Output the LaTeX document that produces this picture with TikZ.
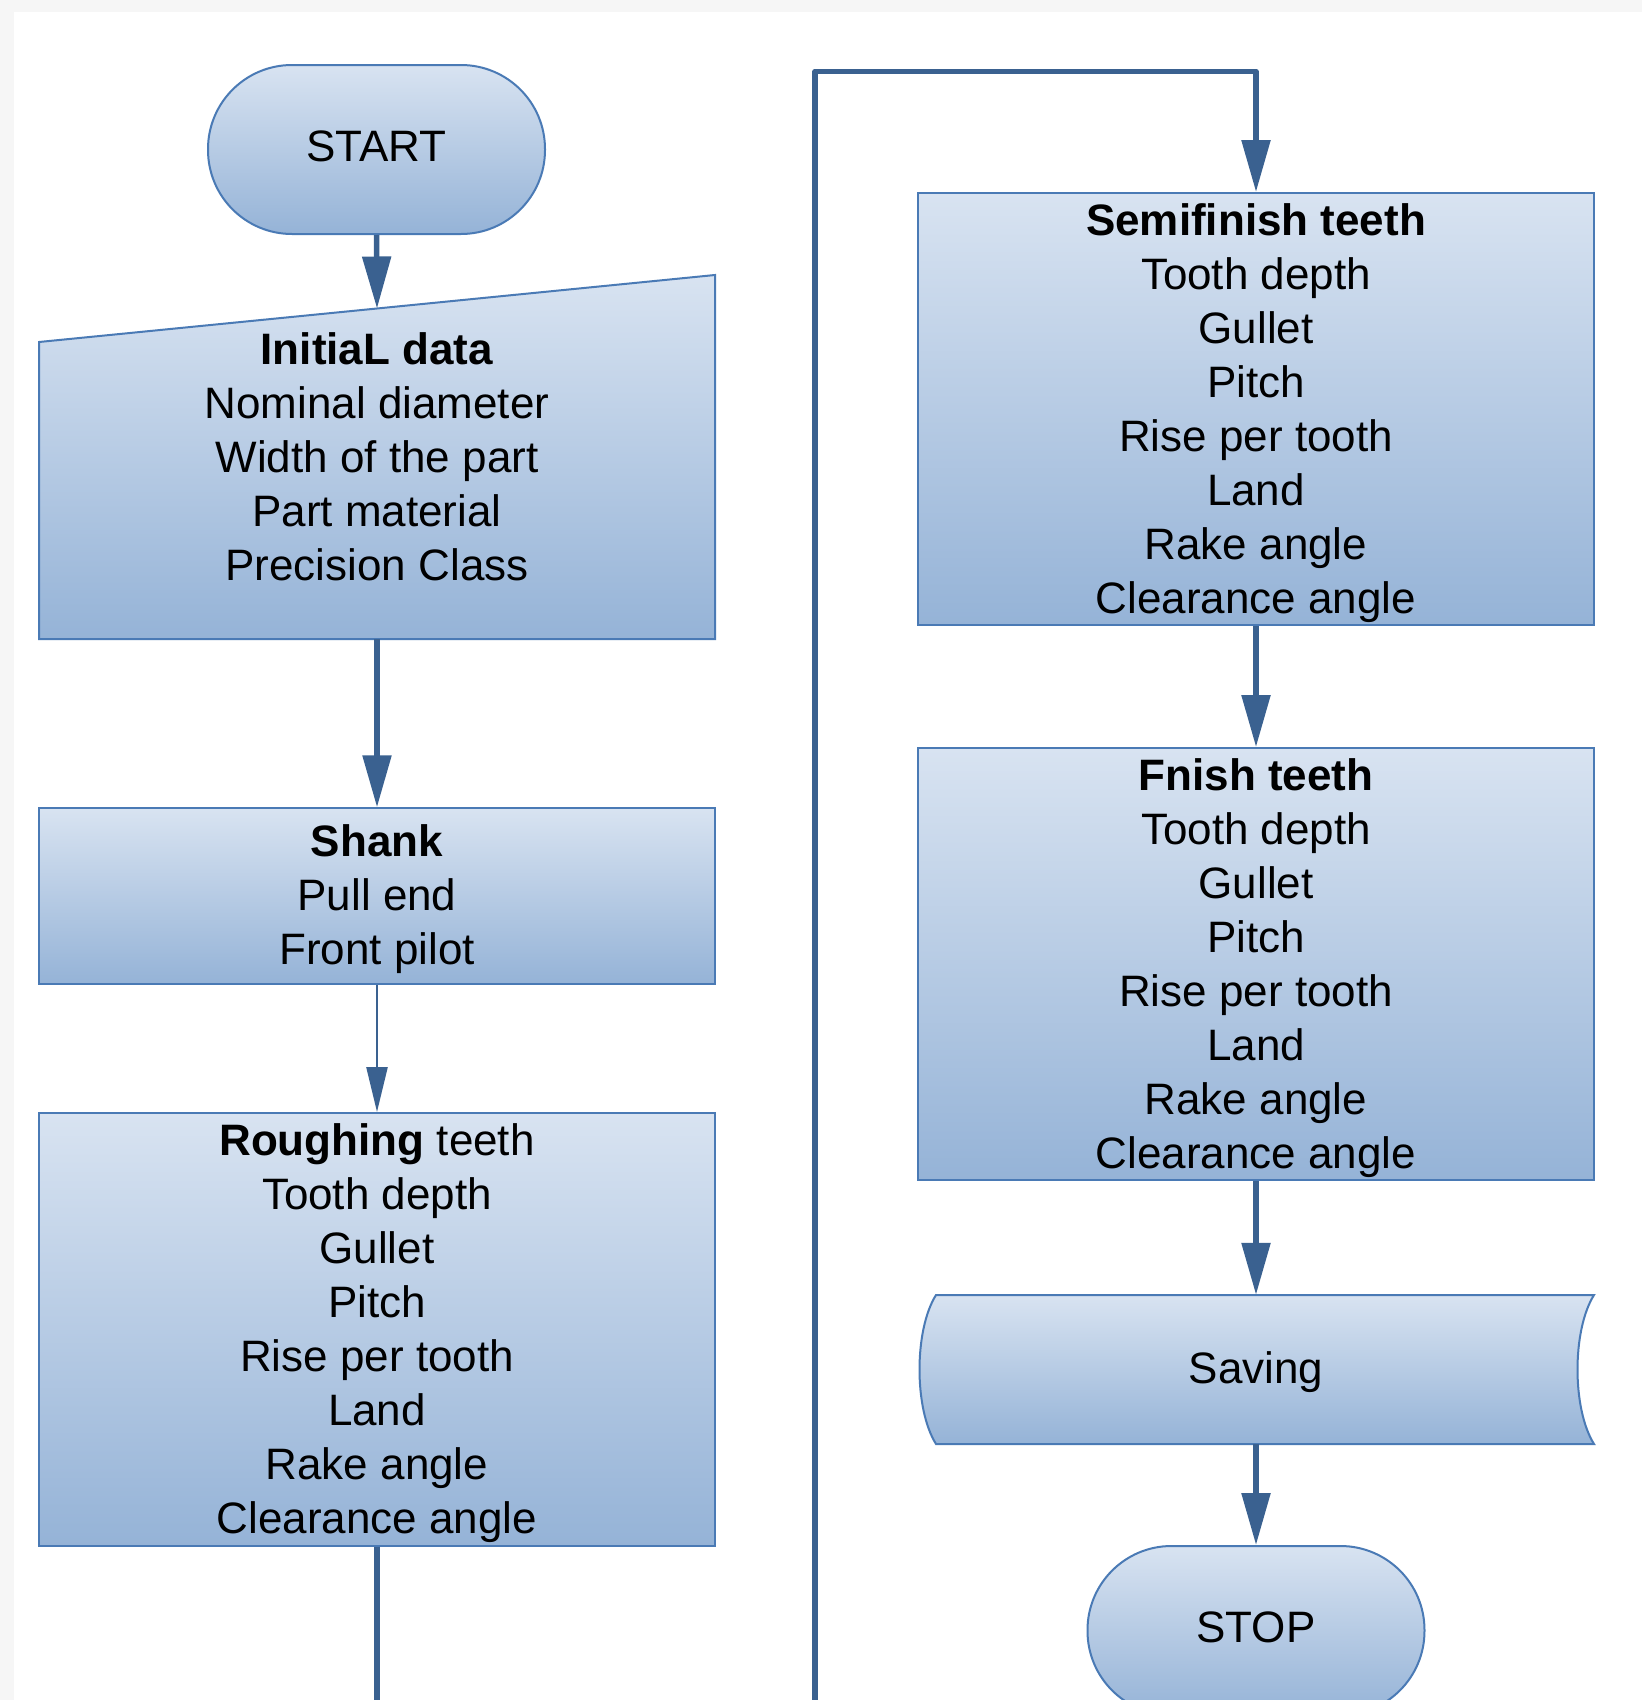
\documentclass[tikz,border=0pt]{standalone}
\usepackage{fontspec}
\setmainfont{Liberation Sans}
\usetikzlibrary{arrows.meta}
\definecolor{bordc}{HTML}{4A7AB5}
\definecolor{linec}{HTML}{3A6190}
\definecolor{topc}{HTML}{D8E3F1}
\definecolor{botc}{HTML}{95B3D7}
\definecolor{greybg}{HTML}{F6F6F6}
\begin{document}
\begin{tikzpicture}[x=1pt,y=-1pt,
  boxfill/.style={top color=topc,bottom color=botc,draw=bordc,line width=2pt},
  txt/.style={font=\fontsize{44}{54}\selectfont,align=center,inner sep=0pt,text=black},
  term/.style={boxfill,rectangle,rounded corners=84pt,minimum width=337pt,minimum height=169pt},
  procbox/.style={boxfill,rectangle,minimum width=676pt},
  conn/.style={draw=linec,line width=5.5pt,line join=round,-{Triangle[length=52pt,width=28pt]}},
  connthin/.style={draw=linec,line width=2.5pt,-{Triangle[length=45pt,width=21pt]}},
  plainline/.style={draw=linec,line width=5.5pt},
]
\useasboundingbox (0,0) rectangle (1642,1700);
\clip (0,0) rectangle (1642,1700);
\fill[greybg] (0,0) rectangle (1642,1700);
\fill[white] (14,12) rectangle (1642,1700);

% left column
\node[term] (start) at (376.5,149.5) {};
\node[txt] (starttxt) at ([yshift=3pt]start.center) {START};
\draw[boxfill] (39,342) -- (715,275) -- (715,639) -- (39,639) -- cycle;
\node[txt,minimum width=676pt,minimum height=364pt] (initbox) at (377,457)
  {\textbf{InitiaL data}\\Nominal diameter\\Width of the part\\Part material\\Precision Class};
\coordinate (inittop) at (377,308.5);
\node[procbox,minimum height=175.5pt] (shank) at (377,896) {};
\node[txt] (shanktxt) at ([yshift=-3pt]shank.center) {\textbf{Shank}\\Pull end\\Front pilot};
\node[procbox,minimum height=432.5pt] (rough) at (377,1329.25) {};
\node[txt] (roughtxt) at ([yshift=-4pt]rough.center)
  {\textbf{Roughing} teeth\\Tooth depth\\Gullet\\Pitch\\Rise per tooth\\Land\\Rake angle\\Clearance angle};

% right column
\node[procbox,minimum height=432pt] (semi) at (1256,409) {};
\node[txt] (semitxt) at ([yshift=-4pt]semi.center)
  {\textbf{Semifinish teeth}\\Tooth depth\\Gullet\\Pitch\\Rise per tooth\\Land\\Rake angle\\Clearance angle};
\node[procbox,minimum height=432pt] (fnish) at (1256,964) {};
\node[txt] (fnishtxt) at ([yshift=-4pt]fnish.center)
  {\textbf{Fnish teeth}\\Tooth depth\\Gullet\\Pitch\\Rise per tooth\\Land\\Rake angle\\Clearance angle};
\draw[boxfill] (936,1295) -- (1594,1295) .. controls (1572,1330) and (1572,1409) .. (1594,1444)
  -- (936,1444) .. controls (914,1409) and (914,1330) .. (936,1295) -- cycle;
\node[minimum width=676pt,minimum height=149pt,inner sep=0pt] (saving) at (1256,1369.5) {};
\node[txt] (savingtxt) at ([yshift=-3pt]saving.center) {Saving};
\node[term] (stop) at (1256,1630.5) {};
\node[txt] (stoptxt) at ([yshift=3pt]stop.center) {STOP};

% connectors
\coordinate (lbot) at (377,1700);
\coordinate (rbot) at (815,1700);
\coordinate (rtop) at (815,71.5);
\draw[conn] (start.south) -- (inittop);
\draw[conn] (initbox.south) -- (shank.north);
\draw[connthin] (shank.south) -- (rough.north);
\draw[plainline] (rough.south) -- (lbot);
\draw[conn] (rbot) -- (rtop) -| (semi.north);
\draw[conn] (semi.south) -- (fnish.north);
\draw[conn] (fnish.south) -- (saving.north);
\draw[conn] (saving.south) -- (stop.north);
\end{tikzpicture}
\end{document}
